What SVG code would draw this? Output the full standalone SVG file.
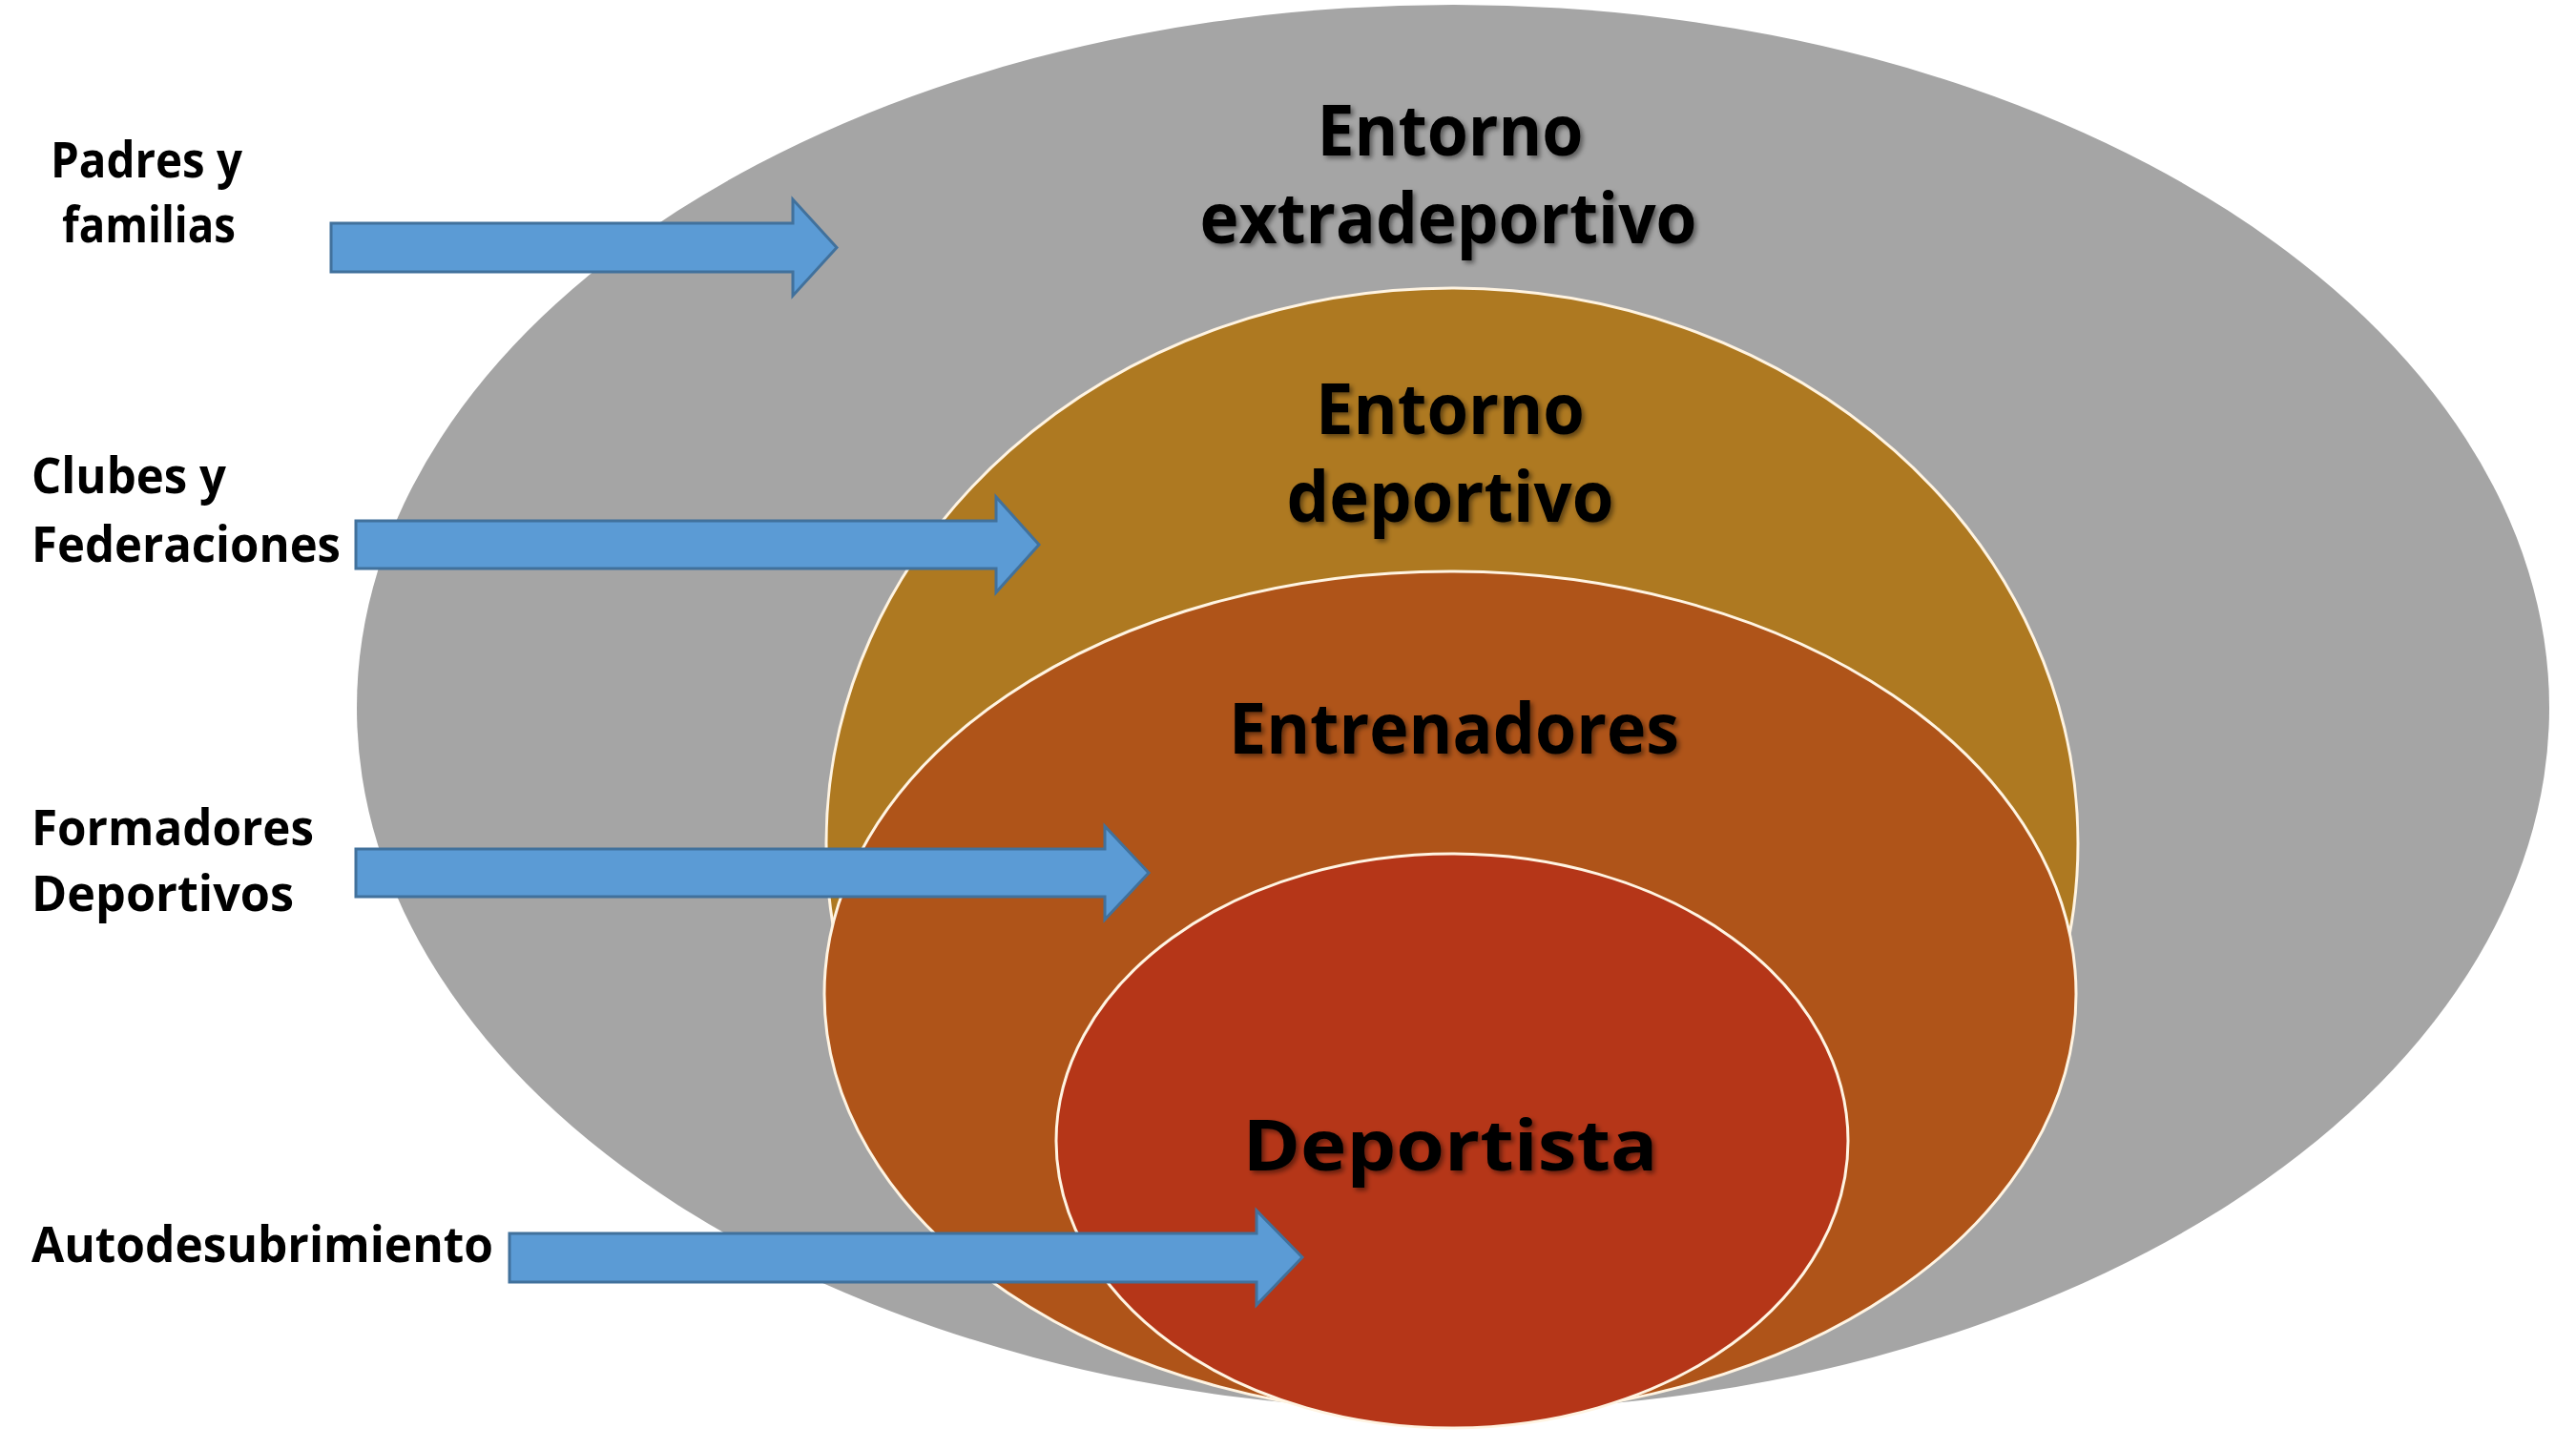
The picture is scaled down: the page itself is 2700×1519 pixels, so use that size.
<svg xmlns="http://www.w3.org/2000/svg" width="2700" height="1519" viewBox="0 0 2700 1519">
<defs>
<style>
.ring{stroke:#FFF4E2;stroke-width:3}
.arrow{fill:#5B9BD5;stroke:#41719C;stroke-width:3}
.side{font-family:"Open Sans","Liberation Sans",sans-serif;font-weight:700;font-size:52px;fill:#000}
.center{font-family:"Open Sans","Liberation Sans",sans-serif;font-weight:700;font-size:74px;fill:#000;text-anchor:middle}
</style>
<filter id="shadow" x="-10%" y="-30%" width="120%" height="160%">
<feDropShadow dx="3" dy="3" stdDeviation="2.5" flood-color="#000" flood-opacity="0.45"/>
</filter>
</defs>
<rect width="2700" height="1519" fill="#FFFFFF"/>
<g id="extradeportivo">
<ellipse cx="1523" cy="742" rx="1149" ry="737" fill="#A5A5A5"/>
<text class="center" x="1520" y="163" textLength="279" lengthAdjust="spacingAndGlyphs" filter="url(#shadow)">Entorno</text>
<text class="center" x="1518" y="255" textLength="521" lengthAdjust="spacingAndGlyphs" filter="url(#shadow)">extradeportivo</text>
</g>
<g id="deportivo">
<ellipse class="ring" cx="1522" cy="884" rx="656" ry="582" fill="#AE7921"/>
<text class="center" x="1520" y="455" textLength="282" lengthAdjust="spacingAndGlyphs" filter="url(#shadow)">Entorno</text>
<text class="center" x="1520" y="547" textLength="343" lengthAdjust="spacingAndGlyphs" filter="url(#shadow)">deportivo</text>
</g>
<g id="entrenadores">
<ellipse class="ring" cx="1520" cy="1042" rx="656" ry="443" fill="#AF5419"/>
<text class="center" x="1524" y="790" textLength="472" lengthAdjust="spacingAndGlyphs" filter="url(#shadow)">Entrenadores</text>
</g>
<g id="deportista">
<ellipse class="ring" cx="1522" cy="1196" rx="415" ry="301" fill="#B53618"/>
<text class="center" x="1520" y="1227" font-size="90" textLength="435" lengthAdjust="spacingAndGlyphs" filter="url(#shadow)">Deportista</text>
</g>
<g id="label-padres">
<text class="side" x="53" y="186" textLength="201" lengthAdjust="spacingAndGlyphs">Padres y</text>
<text class="side" x="65" y="254" textLength="182" lengthAdjust="spacingAndGlyphs">familias</text>
</g>
<g id="label-clubes">
<text class="side" x="33" y="517" textLength="204" lengthAdjust="spacingAndGlyphs">Clubes y</text>
<text class="side" x="33" y="589" textLength="324" lengthAdjust="spacingAndGlyphs">Federaciones</text>
</g>
<g id="label-formadores">
<text class="side" x="33" y="886" textLength="296" lengthAdjust="spacingAndGlyphs">Formadores</text>
<text class="side" x="33" y="955" textLength="275" lengthAdjust="spacingAndGlyphs">Deportivos</text>
</g>
<g id="label-auto">
<text class="side" x="33" y="1323" textLength="484" lengthAdjust="spacingAndGlyphs">Autodesubrimiento</text>
</g>
<g id="connectors">
<path class="arrow" d="M347,234 H831 V209 L877,259.5 L831,310 V285 H347 Z"/>
<path class="arrow" d="M373,546 H1044 V521 L1089,571 L1044,621 V596 H373 Z"/>
<path class="arrow" d="M373,890 H1158 V866 L1204,915 L1158,964 V940 H373 Z"/>
<path class="arrow" d="M534,1293 H1317 V1269 L1365,1318 L1317,1368 V1344 H534 Z"/>
</g>
</svg>
